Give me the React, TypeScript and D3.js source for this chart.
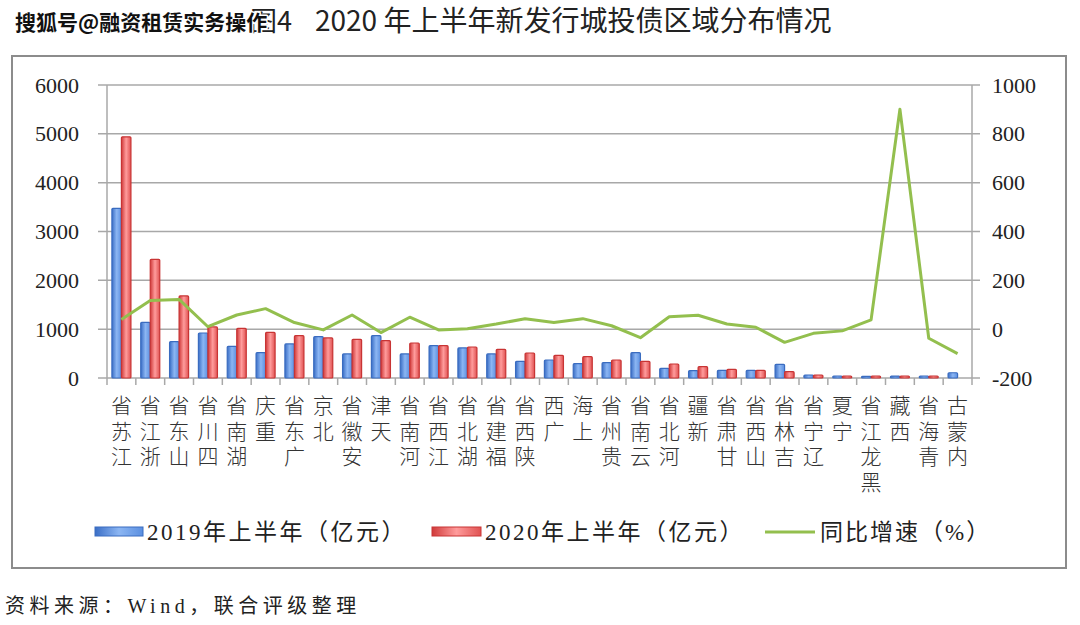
import React from "react";
import * as d3 from "d3";

const categories = ["江苏省","浙江省","山东省","四川省","湖南省","重庆","广东省","北京","安徽省","天津","河南省","江西省","湖北省","福建省","陕西省","广西","上海","贵州省","云南省","河北省","新疆","甘肃省","山西省","吉林省","辽宁省","宁夏","黑龙江省","西藏","青海省","内蒙古"];
const v2019 = [3475,1140,744,922,648,518,697,846,492,867,492,662,615,492,342,369,293,314,519,198,150,157,157,280,61,41,32,40,41,107];
const v2020 = [4938,2430,1680,1045,1016,934,867,820,791,764,717,662,635,588,512,465,437,369,342,287,232,178,157,130,61,41,41,41,41,0];
const growth = [40,117,122,10,58,84,27,-3,58,-14,49,-3,2,21,43,27,43,14,-35,51,57,21,8,-54,-17,-7,38,901,-37,-100];
const leftTicks = [0,1000,2000,3000,4000,5000,6000];
const rightTicks = [-200,0,200,400,600,800,1000];
const legendLabels = ["2019年上半年（亿元）","2020年上半年（亿元）","同比增速（%）"];
const titleText = "2020 年上半年新发行城投债区域分布情况";
const sourceText = "资料来源：Wind，联合评级整理";
const watermark = "搜狐号@融资租赁实务操作";

const SERIF = "'Liberation Serif', 'Noto Sans CJK SC', serif";
const CJK = "'Noto Sans CJK SC', sans-serif";

export default function App() {
  const left = 107, right = 972, top = 85, bottom = 378;
  const x = d3.scaleBand<string>().domain(categories).range([left, right]);
  const yL = d3.scaleLinear().domain([0, 6000]).range([bottom, top]);
  const yR = d3.scaleLinear().domain([-200, 1000]).range([bottom, top]);
  const bw = x.bandwidth() * 0.33;
  const line = d3.line<number>()
    .x((_, i) => (x(categories[i]) as number) + x.bandwidth() / 2)
    .y((d) => yR(d));
  const boundaries = categories.map((c) => x(c) as number).concat([right]);

  return (
    <svg width={1080} height={625} style={{ position: "absolute", left: 0, top: 0, background: "#fff" }}>
      <defs>
        <linearGradient id="gBlue" x1="0" x2="1" y1="0" y2="0">
          <stop offset="0" stopColor="#3a6ec6" />
          <stop offset="0.5" stopColor="#8cb6f3" />
          <stop offset="1" stopColor="#5b8fe0" />
        </linearGradient>
        <linearGradient id="gRed" x1="0" x2="1" y1="0" y2="0">
          <stop offset="0" stopColor="#d03a3a" />
          <stop offset="0.5" stopColor="#ff9c9c" />
          <stop offset="1" stopColor="#e05252" />
        </linearGradient>
      </defs>
      {/* title */}
      <text x={250} y={31} fontFamily={CJK} fontSize={27} fill="#222">图4</text>
      <text x={315} y={31} fontFamily={CJK} fontSize={28} fill="#222">{titleText}</text>
      <text x={15} y={30} fontFamily={CJK} fontSize={21} fontWeight={700} fill="#111"
        stroke="#fff" strokeWidth={3} paintOrder="stroke" strokeLinejoin="round">{watermark}</text>

      {/* frame */}
      <rect x={12} y={56} width={1054} height={512} fill="none" stroke="#8c8c8c" strokeWidth={2} />

      {/* gridlines */}
      {leftTicks.map((t) => (
        <line key={"g" + t} x1={left - 9} x2={right + 8} y1={yL(t)} y2={yL(t)} stroke="#a8a8a8" strokeWidth={1.5} />
      ))}
      <line x1={left} x2={left} y1={top} y2={bottom} stroke="#a8a8a8" strokeWidth={1.5} />
      <line x1={right} x2={right} y1={top} y2={bottom} stroke="#a8a8a8" strokeWidth={1.5} />
      {boundaries.map((b, i) => (
        <line key={"t" + i} x1={b} x2={b} y1={bottom} y2={bottom + 7} stroke="#a8a8a8" strokeWidth={1.5} />
      ))}

      {/* tick labels */}
      {leftTicks.map((t) => (
        <text key={"l" + t} x={79} y={yL(t)} textAnchor="end" dominantBaseline="central" fontFamily={SERIF} fontSize={22} fill="#222">{t}</text>
      ))}
      {rightTicks.map((t) => (
        <text key={"r" + t} x={992} y={yR(t)} textAnchor="start" dominantBaseline="central" fontFamily={SERIF} fontSize={22} fill="#222">{t}</text>
      ))}

      {/* bars */}
      {categories.map((c, i) => {
        const cx = (x(c) as number) + x.bandwidth() / 2;
        const h19 = bottom - yL(v2019[i]);
        const h20 = bottom - yL(v2020[i]);
        return (
          <g key={"b" + c}>
            {v2019[i] > 0 && (
              <rect x={cx - bw} y={yL(v2019[i])} width={bw} height={h19} fill="url(#gBlue)" stroke="#3a6cc0" strokeWidth={1.2} rx={1} />
            )}
            {v2020[i] > 0 && (
              <rect x={cx} y={yL(v2020[i])} width={bw} height={h20} fill="url(#gRed)" stroke="#c83434" strokeWidth={1.2} rx={1} />
            )}
          </g>
        );
      })}

      {/* growth line */}
      <path d={line(growth) || ""} fill="none" stroke="#93bf4e" strokeWidth={3} strokeLinejoin="round" />

      {/* category labels: vertical, last char on top */}
      {categories.map((c) => {
        const cx = (x(c) as number) + x.bandwidth() / 2;
        const rev = Array.from(c).reverse().join("");
        return (
          <text key={"c" + c} x={cx} y={395} fontFamily={CJK} fontWeight={300} fontSize={21} fill="#333"
            letterSpacing={4.5}
            style={{ writingMode: "vertical-rl", textOrientation: "upright" } as React.CSSProperties}>{rev}</text>
        );
      })}

      {/* legend */}
      <rect x={95} y={527} width={48} height={9} fill="url(#gBlue)" stroke="#3a6cc0" strokeWidth={1} />
      <text x={147} y={532} dominantBaseline="central" fontFamily={SERIF} fontSize={23} letterSpacing={2.5} fill="#222">{legendLabels[0]}</text>
      <rect x={432} y={527} width={49} height={9} fill="url(#gRed)" stroke="#c83434" strokeWidth={1} />
      <text x={485} y={532} dominantBaseline="central" fontFamily={SERIF} fontSize={23} letterSpacing={2.5} fill="#222">{legendLabels[1]}</text>
      <line x1={765} x2={815} y1={532} y2={532} stroke="#93bf4e" strokeWidth={3} />
      <text x={820} y={532} dominantBaseline="central" fontFamily={SERIF} fontSize={23} letterSpacing={2} fill="#222">{legendLabels[2]}</text>

      {/* source */}
      <text x={5} y={606} dominantBaseline="central" fontFamily={SERIF} fontSize={20} letterSpacing={4.5} fill="#222">{sourceText}</text>
    </svg>
  );
}
